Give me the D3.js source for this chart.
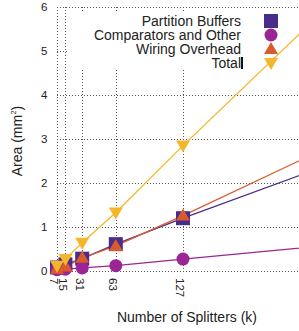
<!DOCTYPE html>
<html>
<head>
<meta charset="utf-8">
<script src="https://cdn.jsdelivr.net/npm/d3@7"></script>
<style>
body { margin: 0; background: #fff; }
svg { display: block; font-family: "Liberation Sans", Arial, sans-serif; }
</style>
</head>
<body>
<svg width="299" height="331"></svg>
<script>
var svg = d3.select('svg');

// data
var splitters = [7, 15, 31, 63, 127];
var yTicks = [0, 1, 2, 3, 4, 5, 6];
var partitionBuffers = [0.08, 0.15, 0.28, 0.61, 1.20];
var comparators = [0.03, 0.04, 0.07, 0.12, 0.27];
var wiringOverhead = [0.05, 0.10, 0.30, 0.57, 1.26];
var total = [0.12, 0.27, 0.64, 1.33, 2.85];
// where each line reaches at k = 255 (off the right edge)
var lineEndK = 255;
var lineEnd = {buffers: 2.32, comparators: 0.56, wiring: 2.70, total: 5.78};

var names = ['Partition Buffers', 'Comparators and Other', 'Wiring Overhead', 'Total'];
var colors = ['#4a2c8a', '#9b2594', '#d95b2c', '#f4b72a'];
var shapes = ['square', 'circle', 'triangle', 'down'];

var series = [
	{values: partitionBuffers, end: lineEnd.buffers},
	{values: comparators, end: lineEnd.comparators},
	{values: wiringOverhead, end: lineEnd.wiring},
	{values: total, end: lineEnd.total}
];

var x = d3.scaleLinear().domain([7, 127]).range([57, 183]);
var y = d3.scaleLinear().domain([0, 6]).range([271, 7]);

var plotLeft = 57, plotRight = 299, plotTop = 7, plotBottom = 271;

svg.append('defs').append('clipPath').attr('id', 'clip')
	.append('rect')
	.attr('x', plotLeft - 10).attr('y', plotTop - 10)
	.attr('width', plotRight - plotLeft + 10).attr('height', plotBottom - plotTop + 20);

// grid
var grid = svg.append('g')
	.attr('stroke', '#555')
	.attr('stroke-width', 1)
	.attr('stroke-dasharray', '1,2');

grid.selectAll('.h').data(yTicks).enter().append('line')
	.attr('x1', plotLeft).attr('x2', plotRight)
	.attr('y1', function(d) { return Math.round(y(d)) + 0.5; })
	.attr('y2', function(d) { return Math.round(y(d)) + 0.5; });

grid.selectAll('.v').data(splitters).enter().append('line')
	.attr('x1', function(d) { return Math.round(x(d)) + 0.5; })
	.attr('x2', function(d) { return Math.round(x(d)) + 0.5; })
	.attr('y1', plotTop).attr('y2', plotBottom);

// legend background hides the grid behind it
svg.append('rect')
	.attr('x', 67).attr('y', 13)
	.attr('width', 232).attr('height', 57)
	.attr('fill', '#fff');

// y tick labels
svg.selectAll('.ytick').data(yTicks).enter().append('text')
	.attr('x', 47.5)
	.attr('y', function(d) { return y(d); })
	.attr('dy', '0.36em')
	.attr('text-anchor', 'end')
	.attr('font-size', 11.5)
	.attr('fill', '#222')
	.text(function(d) { return d; });

// x tick labels, rotated
svg.selectAll('.xtick').data(splitters).enter().append('text')
	.attr('transform', function(d) { return 'translate(' + (x(d) - 2.5) + ',278) rotate(90)'; })
	.attr('dy', '0.36em')
	.attr('text-anchor', 'start')
	.attr('font-size', 11.5)
	.attr('fill', '#222')
	.text(function(d) { return d; });

// axis titles
svg.append('text')
	.attr('x', 187).attr('y', 322)
	.attr('text-anchor', 'middle')
	.attr('font-size', 14)
	.attr('fill', '#222')
	.text('Number of Splitters (k)');

var ylab = svg.append('text')
	.attr('transform', 'translate(22,141) rotate(-90)')
	.attr('text-anchor', 'middle')
	.attr('font-size', 14)
	.attr('fill', '#222');
ylab.append('tspan').text('Area (mm');
ylab.append('tspan').attr('font-size', 8).attr('dy', -6).text('2');
ylab.append('tspan').attr('dy', 6).text(')');

// lines
var plot = svg.append('g').attr('clip-path', 'url(#clip)');
var line = d3.line()
	.x(function(d) { return x(d[0]); })
	.y(function(d) { return y(d[1]); });

series.forEach(function(s, i) {
	var pts = splitters.map(function(k, j) { return [k, s.values[j]]; });
	pts.push([lineEndK, s.end]);
	plot.append('path')
		.datum(pts)
		.attr('fill', 'none')
		.attr('stroke', colors[i])
		.attr('stroke-width', 1.3)
		.attr('d', line);
});

function drawMarker(g, shape, color, cx, cy) {
	if (shape == 'square') {
		g.append('rect').attr('x', cx - 7).attr('y', cy - 7)
			.attr('width', 14).attr('height', 14).attr('fill', color);
	} else if (shape == 'circle') {
		g.append('circle').attr('cx', cx).attr('cy', cy).attr('r', 6.5).attr('fill', color);
	} else if (shape == 'triangle') {
		g.append('path')
			.attr('d', 'M' + cx + ',' + (cy - 7) + 'L' + (cx + 7) + ',' + (cy + 5) + 'L' + (cx - 7) + ',' + (cy + 5) + 'Z')
			.attr('fill', color);
	} else {
		g.append('path')
			.attr('d', 'M' + cx + ',' + (cy + 7) + 'L' + (cx + 7) + ',' + (cy - 5) + 'L' + (cx - 7) + ',' + (cy - 5) + 'Z')
			.attr('fill', color);
	}
}

// markers
series.forEach(function(s, i) {
	var g = svg.append('g');
	s.values.forEach(function(v, j) {
		drawMarker(g, shapes[i], colors[i], x(splitters[j]), y(v));
	});
});

// legend
var legend = svg.append('g');
names.forEach(function(n, i) {
	var ly = 21 + i * 14;
	legend.append('text')
		.attr('x', 241).attr('y', ly)
		.attr('dy', '0.35em')
		.attr('text-anchor', 'end')
		.attr('font-size', 14)
		.attr('fill', '#222')
		.text(n);
	drawMarker(legend, shapes[i], colors[i], 271, ly);
});
legend.append('rect')
	.attr('x', 241).attr('y', 57)
	.attr('width', 2).attr('height', 12)
	.attr('fill', '#111');
</script>
</body>
</html>
